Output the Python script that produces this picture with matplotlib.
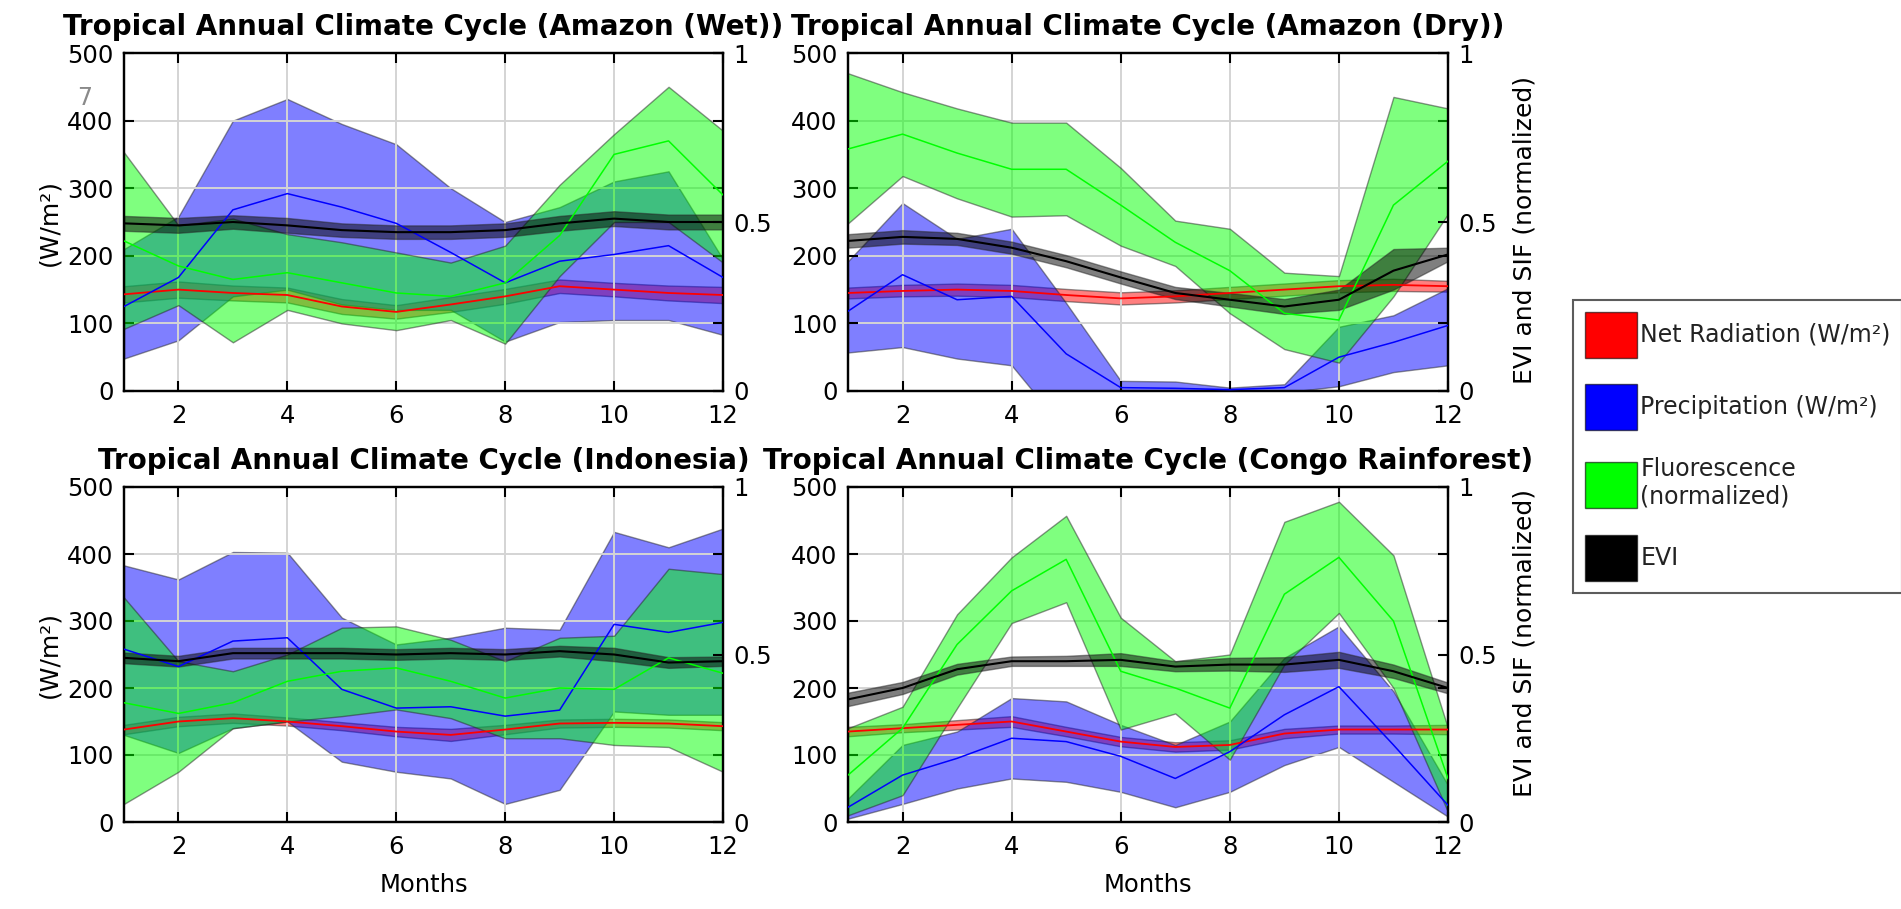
import numpy as np
import matplotlib
matplotlib.use("Agg")
import matplotlib.pyplot as plt
from matplotlib.patches import Patch

plt.rcParams['font.family'] = ['DejaVu Sans']

months = np.arange(1, 13)

# ---- Amazon (Wet) ----
wet_rad = [143, 150, 145, 142, 125, 117, 128, 140, 155, 150, 145, 142]
wet_rad_lo = [131, 138, 134, 131, 114, 107, 117, 129, 145, 140, 134, 130]
wet_rad_hi = [155, 162, 156, 153, 136, 127, 139, 151, 165, 160, 156, 154]
wet_pr = [125, 168, 268, 292, 272, 248, 205, 160, 192, 202, 215, 168]
wet_pr_lo = [48, 75, 140, 150, 128, 120, 120, 73, 102, 105, 105, 83]
wet_pr_hi = [210, 258, 400, 432, 395, 365, 300, 250, 272, 310, 325, 195]
wet_sif = [0.444, 0.37, 0.33, 0.35, 0.32, 0.29, 0.28, 0.32, 0.46, 0.70, 0.74, 0.58]
wet_sif_lo = [0.184, 0.254, 0.144, 0.24, 0.2, 0.18, 0.21, 0.14, 0.34, 0.50, 0.50, 0.38]
wet_sif_hi = [0.706, 0.49, 0.51, 0.464, 0.44, 0.41, 0.38, 0.43, 0.61, 0.76, 0.90, 0.77]
wet_evi = [0.496, 0.49, 0.5, 0.49, 0.476, 0.47, 0.47, 0.476, 0.496, 0.51, 0.50, 0.50]
wet_evi_lo = [0.474, 0.468, 0.48, 0.468, 0.456, 0.45, 0.45, 0.456, 0.474, 0.488, 0.478, 0.478]
wet_evi_hi = [0.518, 0.512, 0.52, 0.512, 0.496, 0.49, 0.49, 0.496, 0.518, 0.532, 0.522, 0.522]

# ---- Amazon (Dry) ----
dry_rad = [145, 148, 150, 148, 142, 137, 140, 145, 150, 155, 157, 155]
dry_rad_lo = [137, 140, 141, 139, 133, 128, 131, 136, 141, 146, 148, 147]
dry_rad_hi = [153, 157, 159, 157, 151, 146, 149, 154, 159, 164, 166, 163]
dry_pr = [118, 172, 135, 140, 55, 5, 4, 2, 5, 50, 72, 97]
dry_pr_lo = [57, 65, 48, 38, -60, -5, -5, -3, -2, 7, 28, 38]
dry_pr_hi = [192, 278, 225, 240, 130, 15, 14, 5, 10, 95, 112, 152]
dry_sif = [0.716, 0.76, 0.704, 0.656, 0.656, 0.55, 0.44, 0.356, 0.23, 0.21, 0.55, 0.68]
dry_sif_lo = [0.496, 0.636, 0.57, 0.516, 0.52, 0.43, 0.37, 0.23, 0.124, 0.084, 0.28, 0.524]
dry_sif_hi = [0.94, 0.884, 0.836, 0.794, 0.794, 0.66, 0.504, 0.48, 0.35, 0.34, 0.87, 0.836]
dry_evi = [0.444, 0.456, 0.45, 0.424, 0.384, 0.336, 0.29, 0.27, 0.25, 0.27, 0.356, 0.404]
dry_evi_lo = [0.424, 0.436, 0.432, 0.406, 0.366, 0.318, 0.272, 0.25, 0.228, 0.24, 0.30, 0.384]
dry_evi_hi = [0.464, 0.476, 0.468, 0.442, 0.402, 0.354, 0.308, 0.29, 0.272, 0.30, 0.42, 0.424]

# ---- Indonesia ----
ind_rad = [138, 150, 155, 150, 143, 135, 130, 138, 147, 148, 147, 143]
ind_rad_lo = [131, 143, 148, 144, 137, 128, 121, 131, 141, 142, 141, 137]
ind_rad_hi = [145, 157, 162, 156, 149, 142, 139, 145, 153, 154, 153, 149]
ind_pr = [258, 232, 270, 275, 198, 170, 172, 158, 167, 295, 283, 298]
ind_pr_lo = [130, 103, 140, 150, 90, 75, 65, 27, 48, 165, 160, 160]
ind_pr_hi = [383, 362, 403, 402, 305, 265, 275, 290, 287, 433, 410, 438]
ind_sif = [0.356, 0.324, 0.356, 0.42, 0.45, 0.46, 0.42, 0.37, 0.40, 0.396, 0.49, 0.444]
ind_sif_lo = [0.054, 0.15, 0.28, 0.30, 0.316, 0.336, 0.31, 0.25, 0.25, 0.23, 0.224, 0.15]
ind_sif_hi = [0.67, 0.48, 0.45, 0.50, 0.58, 0.584, 0.544, 0.48, 0.55, 0.556, 0.756, 0.74]
ind_evi = [0.49, 0.48, 0.504, 0.504, 0.504, 0.50, 0.504, 0.50, 0.51, 0.50, 0.476, 0.48]
ind_evi_lo = [0.474, 0.464, 0.488, 0.488, 0.488, 0.484, 0.488, 0.484, 0.494, 0.48, 0.46, 0.466]
ind_evi_hi = [0.506, 0.496, 0.52, 0.52, 0.52, 0.516, 0.52, 0.516, 0.526, 0.52, 0.492, 0.494]

# ---- Congo Rainforest ----
con_rad = [135, 140, 145, 150, 135, 120, 112, 115, 132, 138, 138, 138]
con_rad_lo = [128, 134, 138, 142, 128, 113, 105, 108, 125, 132, 132, 131]
con_rad_hi = [142, 146, 152, 158, 142, 127, 119, 122, 139, 144, 144, 145]
con_pr = [22, 70, 95, 125, 120, 98, 65, 105, 160, 202, 115, 25]
con_pr_lo = [5, 27, 50, 65, 60, 45, 22, 45, 85, 112, 60, 8]
con_pr_hi = [35, 115, 135, 185, 180, 145, 115, 150, 245, 292, 195, 55]
con_sif = [0.14, 0.28, 0.53, 0.69, 0.784, 0.45, 0.40, 0.34, 0.68, 0.79, 0.60, 0.13]
con_sif_lo = [0.02, 0.08, 0.34, 0.594, 0.656, 0.276, 0.324, 0.186, 0.47, 0.624, 0.40, 0.03]
con_sif_hi = [0.28, 0.344, 0.62, 0.79, 0.914, 0.61, 0.48, 0.50, 0.896, 0.956, 0.796, 0.28]
con_evi = [0.366, 0.40, 0.456, 0.48, 0.48, 0.484, 0.464, 0.47, 0.47, 0.484, 0.45, 0.40]
con_evi_lo = [0.346, 0.382, 0.44, 0.466, 0.466, 0.466, 0.45, 0.452, 0.448, 0.46, 0.43, 0.384]
con_evi_hi = [0.386, 0.418, 0.472, 0.494, 0.496, 0.504, 0.48, 0.49, 0.492, 0.508, 0.47, 0.416]

titles = ['Tropical Annual Climate Cycle (Amazon (Wet))',
          'Tropical Annual Climate Cycle (Amazon (Dry))',
          'Tropical Annual Climate Cycle (Indonesia)',
          'Tropical Annual Climate Cycle (Congo Rainforest)']
legend_labels = ['Net Radiation (W/m²)', 'Precipitation (W/m²)',
                 'Fluorescence\n(normalized)', 'EVI']

panels = [
    (wet_rad, wet_rad_lo, wet_rad_hi, wet_pr, wet_pr_lo, wet_pr_hi,
     wet_sif, wet_sif_lo, wet_sif_hi, wet_evi, wet_evi_lo, wet_evi_hi),
    (dry_rad, dry_rad_lo, dry_rad_hi, dry_pr, dry_pr_lo, dry_pr_hi,
     dry_sif, dry_sif_lo, dry_sif_hi, dry_evi, dry_evi_lo, dry_evi_hi),
    (ind_rad, ind_rad_lo, ind_rad_hi, ind_pr, ind_pr_lo, ind_pr_hi,
     ind_sif, ind_sif_lo, ind_sif_hi, ind_evi, ind_evi_lo, ind_evi_hi),
    (con_rad, con_rad_lo, con_rad_hi, con_pr, con_pr_lo, con_pr_hi,
     con_sif, con_sif_lo, con_sif_hi, con_evi, con_evi_lo, con_evi_hi),
]

RED, BLUE, GREEN, BLACK = '#ff0000', '#0000ff', '#00ff00', '#000000'
EDGE = (0.15, 0.15, 0.15, 0.55)

W, H = 1901, 909
fig = plt.figure(figsize=(W / 100, H / 100), dpi=100)

# axes boxes in pixels: left, top, right, bottom
boxes = [(124, 53, 723, 391), (848, 53, 1448, 391),
         (124, 487, 723, 822), (848, 487, 1448, 822)]
# where the right-hand label sits (axes fraction) for the two right panels
right_label_y = {1: 0.476, 3: 0.534}


def shade(ax, lo, hi, color):
    ax.fill_between(months, lo, hi, facecolor=color, alpha=0.5,
                    edgecolor=EDGE, linewidth=1.0)


for k, (l, t, r, b) in enumerate(boxes):
    rad, rad_lo, rad_hi, pr, pr_lo, pr_hi, sif, sif_lo, sif_hi, evi, evi_lo, evi_hi = panels[k]
    ax = fig.add_axes([l / W, 1 - b / H, (r - l) / W, (b - t) / H])
    ax2 = ax.twinx()      # normalized axis for SIF / EVI
    ax_ln = ax.twinx()    # mean lines in W/m2, drawn above all bands
    ax2_ln = ax.twinx()   # mean lines, normalized

    # bands first (legend order), then the mean lines on top
    shade(ax, rad_lo, rad_hi, RED)
    shade(ax, pr_lo, pr_hi, BLUE)
    shade(ax2, sif_lo, sif_hi, GREEN)
    shade(ax2, evi_lo, evi_hi, BLACK)
    ax_ln.plot(months, rad, color=RED, lw=1.3)
    ax_ln.plot(months, pr, color=BLUE, lw=1.1)
    ax2_ln.plot(months, sif, color=GREEN, lw=1.1)
    ax2_ln.plot(months, evi, color=BLACK, lw=1.5)

    ax.set_xlim(1, 12)
    for a in (ax, ax_ln):
        a.set_ylim(0, 500)
    for a in (ax2, ax2_ln):
        a.set_ylim(0, 1)
    ax_ln.axis('off')
    ax2_ln.axis('off')

    ax.set_xticks([2, 4, 6, 8, 10, 12])
    ax.set_yticks([0, 100, 200, 300, 400, 500])
    ax2.set_yticks([0, 0.5, 1])
    ax2.set_yticklabels(['0', '0.5', '1'])
    ax.grid(True, color='#d4d4d4', lw=1.4)

    ax.tick_params(direction='in', length=7, width=1.5, labelsize=17.5,
                   top=True, right=True)
    ax.tick_params(axis='x', pad=9.5)
    ax.tick_params(axis='y', pad=7.5)
    ax2.tick_params(direction='in', length=7, width=1.5, labelsize=17.5, pad=7.5)
    for sp in list(ax.spines.values()) + list(ax2.spines.values()):
        sp.set_linewidth(1.6)

    ax.set_title(titles[k], fontsize=20, fontweight='bold', pad=13)
    if k % 2 == 0:
        ax.set_ylabel('(W/m²)', fontsize=18)
        ax.yaxis.set_label_coords(-0.105, 0.5)
    else:
        ax2.set_ylabel('EVI and SIF (normalized)', fontsize=18)
        ax2.yaxis.set_label_coords(1.108, right_label_y[k])
    if k >= 2:
        ax.set_xlabel('Months', fontsize=17.5, labelpad=10)

# stray grey mark in the original figure
fig.text(85 / W, 1 - 98 / H, '7', color='#8a8a8a', fontsize=17, ha='center', va='center')

handles = [Patch(facecolor=c, edgecolor=(0, 0, 0, 0.6), lw=1)
           for c in (RED, BLUE, GREEN, BLACK)]
leg = fig.legend(handles, legend_labels, loc='upper left',
                 bbox_to_anchor=(1573 / W, 1 - 300 / H), fontsize=17,
                 frameon=True, fancybox=False, edgecolor='#333333',
                 handlelength=2.2, handleheight=2.62, handletextpad=0.15,
                 labelspacing=1.12, borderpad=0.5, borderaxespad=0)
leg.get_frame().set_linewidth(1.5)
for txt in leg.get_texts():
    txt.set_color('#222222')

fig.savefig('out.png', dpi=100)
